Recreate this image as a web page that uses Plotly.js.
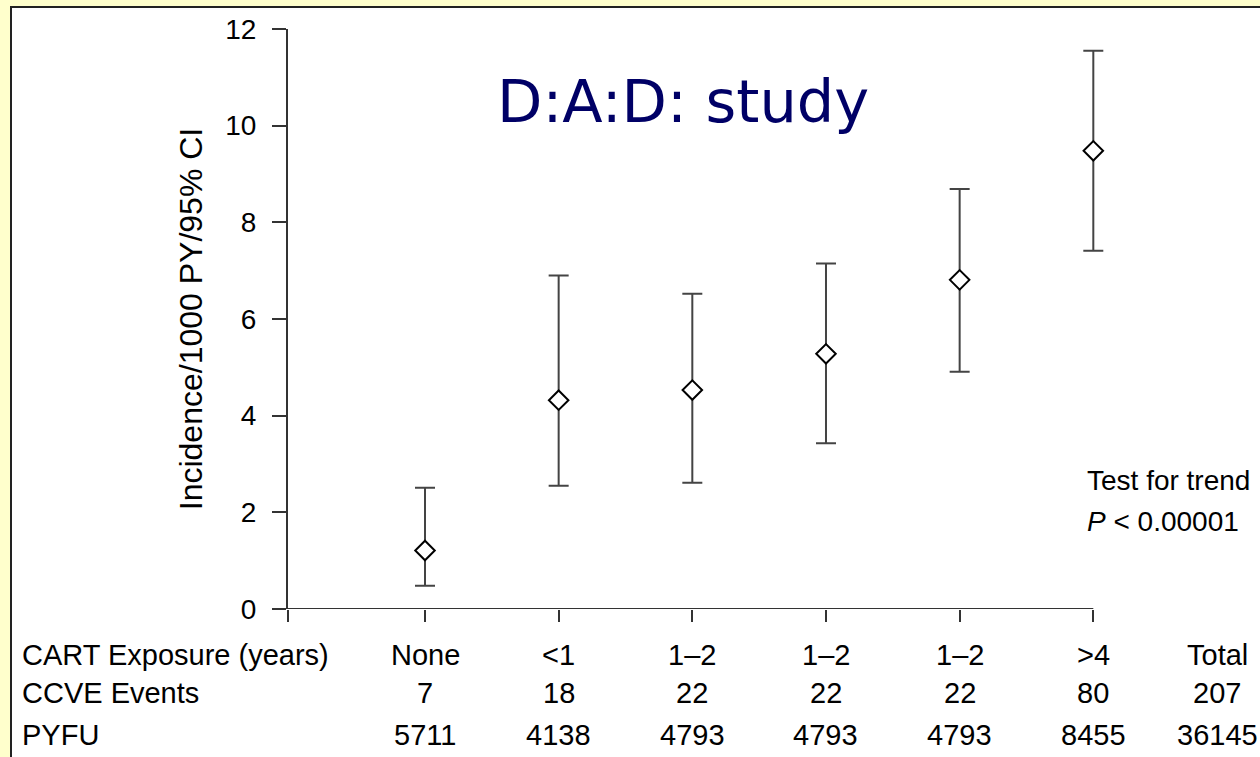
<!DOCTYPE html>
<html>
<head>
<meta charset="utf-8">
<script src="https://cdn.plot.ly/plotly-3.0.1.min.js"></script>
<style>
  html, body { margin: 0; padding: 0; width: 1260px; height: 757px; overflow: hidden; background: #FFFFCC; }
  #frame { position: absolute; left: 10px; top: 6px; width: 1260px; height: 760px; background: #ffffff; border-left: 2px solid #222; border-top: 2px solid #222; }
  #plot { position: absolute; left: 0; top: 0; width: 1260px; height: 757px; }
</style>
</head>
<body>
<div id="frame"></div>
<div id="plot"></div>
<script>
// Data
const categories = ["None", "<1", "1–2", "1–2", "1–2", ">4"];
const incidence  = [1.21, 4.32, 4.53, 5.28, 6.81, 9.48];
const ciUpper    = [2.51, 6.90, 6.52, 7.15, 8.69, 11.55];
const ciLower    = [0.48, 2.55, 2.61, 3.43, 4.91, 7.41];
const ccveEvents = ["7", "18", "22", "22", "22", "80"];
const pyfu       = ["5711", "4138", "4793", "4793", "4793", "8455"];
const totalColumn = ["Total", "207", "36145"];
const rowLabels = ["CART Exposure (years)", "CCVE Events", "PYFU"];
const yTicks = [0, 2, 4, 6, 8, 10, 12];

const xpos = categories.map((c, i) => i);
const errPlus = incidence.map((v, i) => ciUpper[i] - v);
const errMinus = incidence.map((v, i) => v - ciLower[i]);

const FONT = "Liberation Sans, Arial, sans-serif";
const AX = "#333333";
const xStart = -1.025;
const xEnd = 5.08;

// plot area in pixels
const L = 288, R = 1104, T = 29, B = 609;
const W = R - L, H = B - T;
function paperX(px) { return (px - L) / W; }
function paperY(py) { return 1 - (py - T) / H; }

const trace = {
  x: xpos,
  y: incidence,
  type: "scatter",
  mode: "markers",
  cliponaxis: false,
  marker: { symbol: "diamond", size: 15, color: "#ffffff", line: { color: "#000000", width: 2 } },
  error_y: { type: "data", symmetric: false, array: errPlus, arrayminus: errMinus, color: "#444444", thickness: 2, width: 10 },
  hoverinfo: "y"
};

const annotations = [];
const rowY = [655, 693, 735];
const tf = { family: FONT, size: 29, color: "#000" };
rowLabels.forEach((t, r) => {
  annotations.push({ text: t, xref: "paper", yref: "paper", x: paperX(20), y: paperY(rowY[r]), xanchor: "left", yanchor: "middle", showarrow: false, font: tf });
});
const rows = [categories, ccveEvents, pyfu];
rows.forEach((arr, r) => {
  arr.forEach((t, i) => {
    annotations.push({ text: t, xref: "x", yref: "paper", x: xpos[i], y: paperY(rowY[r]), xanchor: "center", yanchor: "middle", showarrow: false, font: tf });
  });
});
totalColumn.forEach((t, r) => {
  annotations.push({ text: t, xref: "paper", yref: "paper", x: paperX(1217), y: paperY(rowY[r]), xanchor: "center", yanchor: "middle", showarrow: false, font: tf });
});
annotations.push({ text: "Test for trend", xref: "paper", yref: "paper", x: paperX(1085), y: paperY(480), xanchor: "left", yanchor: "middle", showarrow: false, font: { family: FONT, size: 28, color: "#000" } });
annotations.push({ text: "<i>P</i> < 0.00001", xref: "paper", yref: "paper", x: paperX(1085), y: paperY(521), xanchor: "left", yanchor: "middle", showarrow: false, font: { family: FONT, size: 28, color: "#000" } });
annotations.push({ text: "D:A:D: study", xref: "paper", yref: "paper", x: paperX(683), y: paperY(101), xanchor: "center", yanchor: "middle", showarrow: false, font: { family: "Comic Sans MS, DejaVu Sans, sans-serif", size: 59, color: "#000066" } });

const layout = {
  width: 1260, height: 757,
  paper_bgcolor: "rgba(0,0,0,0)",
  plot_bgcolor: "rgba(0,0,0,0)",
  margin: { l: L, r: 1260 - R, t: T, b: 757 - B },
  showlegend: false,
  xaxis: {
    range: [xStart, xEnd], showgrid: false, zeroline: false, showline: false,
    ticks: "outside", ticklen: 12, tickwidth: 2, tickcolor: AX,
    tickmode: "array", tickvals: [xStart].concat(xpos), showticklabels: false, fixedrange: true
  },
  yaxis: {
    range: [0, 12], showgrid: false, zeroline: false, showline: true, linecolor: AX, linewidth: 2,
    ticks: "outside", ticklen: 14, tickwidth: 2, tickcolor: AX,
    tickmode: "array", tickvals: yTicks, ticktext: yTicks.map(String),
    ticklabelstandoff: 10,
    tickfont: { family: FONT, size: 28, color: "#000" },
    title: { text: "Incidence/1000 PY/95% CI", font: { family: FONT, size: 32, color: "#000" }, standoff: 13 },
    fixedrange: true
  },
  shapes: [
    { type: "line", xref: "x", yref: "y", x0: xStart, x1: xpos[xpos.length - 1], y0: 0, y1: 0, line: { color: AX, width: 2 } }
  ],
  annotations: annotations
};

Plotly.newPlot("plot", [trace], layout, { displayModeBar: false, staticPlot: true });
</script>
</body>
</html>
